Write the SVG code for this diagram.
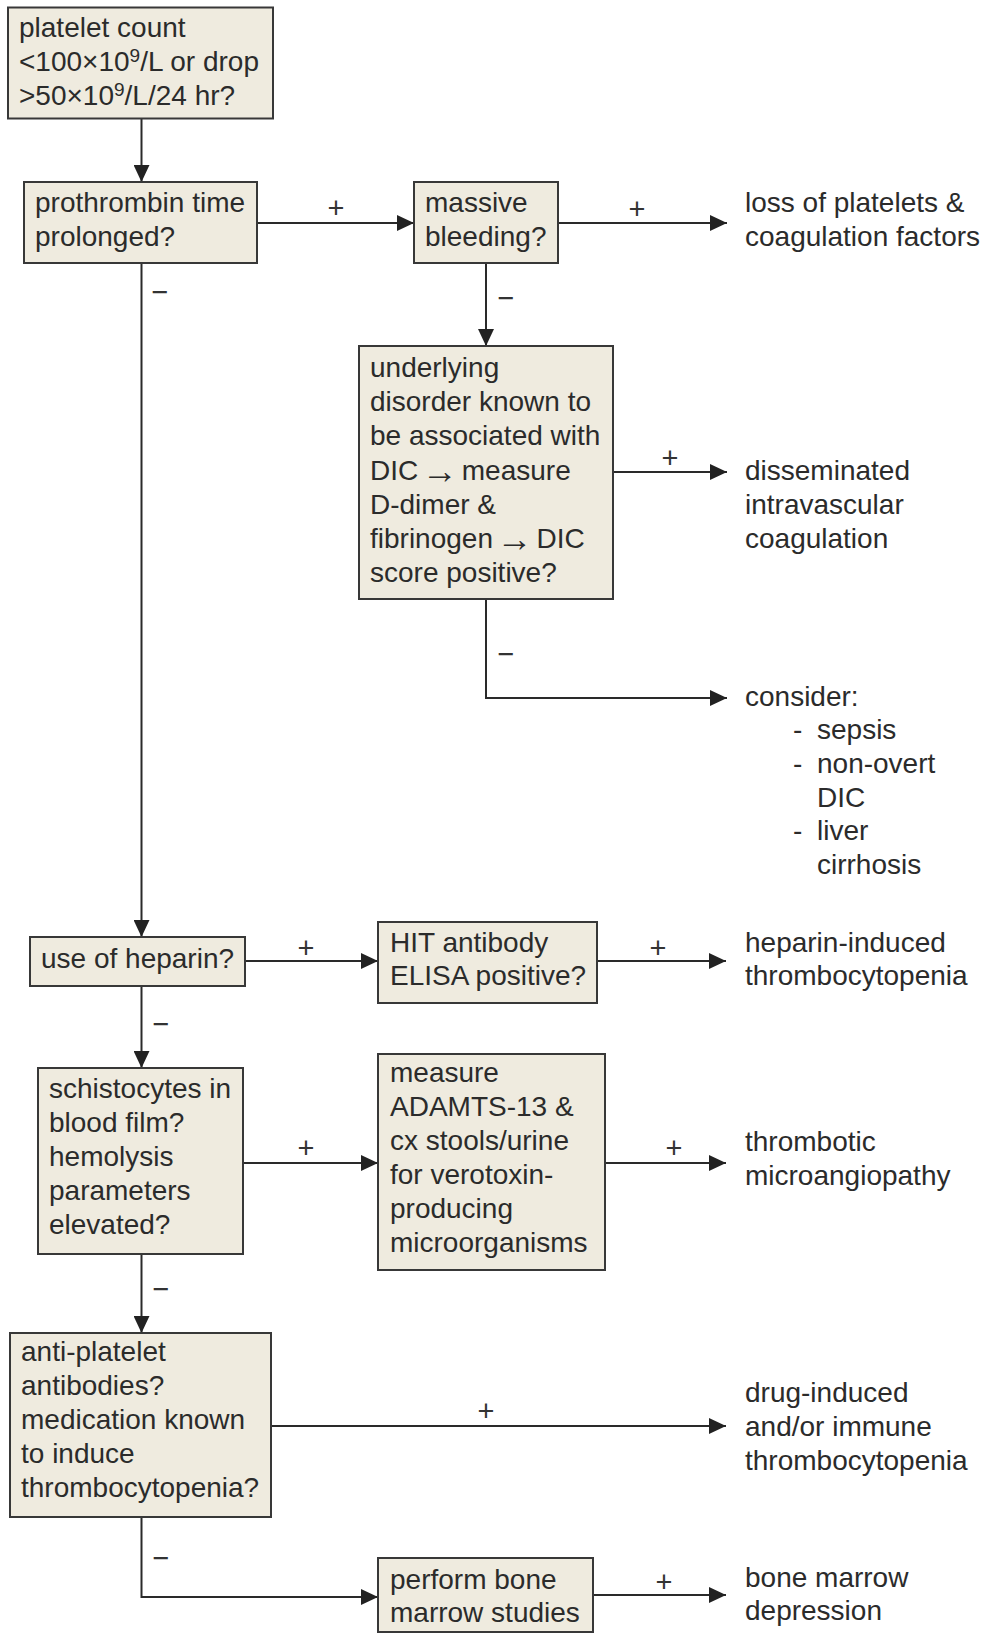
<svg xmlns="http://www.w3.org/2000/svg" width="984" height="1634" viewBox="0 0 984 1634">
  <style>
    .box { fill: #efebdf; stroke: #383838; stroke-width: 2; }
    .t { font-family: "Liberation Sans", Arial, Helvetica, sans-serif; font-size: 28px; fill: #2b2b2b; }
    .lbl { font-family: "Liberation Sans", Arial, Helvetica, sans-serif; font-size: 29px; fill: #333333; text-anchor: middle; }
    .sup { font-size: 19px; }
    .tight { word-spacing: -4px; }
    .arr { font-size: 36px; }
    #connectors path { fill: none; stroke: #2a2a2a; stroke-width: 2; marker-end: url(#arrow); }
  </style>
  <defs>
    <marker id="arrow" markerUnits="userSpaceOnUse" markerWidth="17" markerHeight="16" refX="17" refY="8" orient="auto">
      <path d="M0,0 L17,8 L0,16 z" fill="#222222"/>
    </marker>
  </defs>

  <rect width="984" height="1634" fill="#ffffff"/>

  <!-- connectors -->
  <g id="connectors">
    <path d="M141.5,119 V182"/>
    <path d="M257,223 H414"/>
    <path d="M558,223 H727"/>
    <path d="M486,263 V346"/>
    <path d="M613,472 H727"/>
    <path d="M486,599 V698 H727"/>
    <path d="M141.5,263 V937"/>
    <path d="M245,961 H378"/>
    <path d="M597,961 H726"/>
    <path d="M141.5,986 V1068"/>
    <path d="M243,1163 H378"/>
    <path d="M605,1163 H726"/>
    <path d="M141.5,1254 V1333"/>
    <path d="M271,1426 H726"/>
    <path d="M141.5,1517 V1597 H378"/>
    <path d="M593,1595 H726"/>
  </g>

  <!-- branch labels -->
  <g id="branch-labels">
    <text class="lbl" x="336" y="218">+</text>
    <text class="lbl" x="637" y="219">+</text>
    <text class="lbl" x="160" y="302">−</text>
    <text class="lbl" x="506" y="308">−</text>
    <text class="lbl" x="670" y="468">+</text>
    <text class="lbl" x="506" y="664">−</text>
    <text class="lbl" x="306" y="958">+</text>
    <text class="lbl" x="658" y="958">+</text>
    <text class="lbl" x="161" y="1034">−</text>
    <text class="lbl" x="306" y="1158">+</text>
    <text class="lbl" x="674" y="1158">+</text>
    <text class="lbl" x="161" y="1299">−</text>
    <text class="lbl" x="486" y="1421">+</text>
    <text class="lbl" x="161" y="1568">−</text>
    <text class="lbl" x="664" y="1592">+</text>
  </g>

  <!-- decision boxes -->
  <g id="platelet-count">
    <rect class="box" x="8" y="7.5" width="265" height="111"/>
    <text class="t" x="19" y="37">platelet count</text>
    <text class="t" x="19" y="71">&lt;100×10<tspan class="sup" dy="-9">9</tspan><tspan dy="9">/L or drop</tspan></text>
    <text class="t" x="19" y="105">&gt;50×10<tspan class="sup" dy="-9">9</tspan><tspan dy="9">/L/24 hr?</tspan></text>
  </g>

  <g id="prothrombin-time">
    <rect class="box" x="24" y="182" width="233" height="81"/>
    <text class="t" x="35" y="212">prothrombin time</text>
    <text class="t" x="35" y="246">prolonged?</text>
  </g>

  <g id="massive-bleeding">
    <rect class="box" x="414" y="182" width="144" height="81"/>
    <text class="t" x="425" y="212">massive</text>
    <text class="t" x="425" y="246">bleeding?</text>
  </g>

  <g id="dic-score">
    <rect class="box" x="359" y="346" width="254" height="253"/>
    <text class="t" x="370" y="377">underlying</text>
    <text class="t" x="370" y="411">disorder known to</text>
    <text class="t" x="370" y="445">be associated with</text>
    <text class="t tight" x="370" y="480">DIC <tspan class="arr" dy="3">→</tspan><tspan dy="-3"> measure</tspan></text>
    <text class="t" x="370" y="514">D-dimer &amp;</text>
    <text class="t tight" x="370" y="548">fibrinogen <tspan class="arr" dy="3">→</tspan><tspan dy="-3"> DIC</tspan></text>
    <text class="t" x="370" y="582">score positive?</text>
  </g>

  <g id="use-of-heparin">
    <rect class="box" x="30" y="937" width="215" height="49"/>
    <text class="t" x="41" y="968">use of heparin?</text>
  </g>

  <g id="hit-antibody">
    <rect class="box" x="378" y="922" width="219" height="81"/>
    <text class="t" x="390" y="952">HIT antibody</text>
    <text class="t" x="390" y="985">ELISA positive?</text>
  </g>

  <g id="schistocytes">
    <rect class="box" x="38" y="1068" width="205" height="186"/>
    <text class="t" x="49" y="1098">schistocytes in</text>
    <text class="t" x="49" y="1132">blood film?</text>
    <text class="t" x="49" y="1166">hemolysis</text>
    <text class="t" x="49" y="1200">parameters</text>
    <text class="t" x="49" y="1234">elevated?</text>
  </g>

  <g id="adamts13">
    <rect class="box" x="378" y="1054" width="227" height="216"/>
    <text class="t" x="390" y="1082">measure</text>
    <text class="t" x="390" y="1116">ADAMTS-13 &amp;</text>
    <text class="t" x="390" y="1150">cx stools/urine</text>
    <text class="t" x="390" y="1184">for verotoxin-</text>
    <text class="t" x="390" y="1218">producing</text>
    <text class="t" x="390" y="1252">microorganisms</text>
  </g>

  <g id="anti-platelet">
    <rect class="box" x="10" y="1333" width="261" height="184"/>
    <text class="t" x="21" y="1361">anti-platelet</text>
    <text class="t" x="21" y="1395">antibodies?</text>
    <text class="t" x="21" y="1429">medication known</text>
    <text class="t" x="21" y="1463">to induce</text>
    <text class="t" x="21" y="1497">thrombocytopenia?</text>
  </g>

  <g id="bone-marrow-studies">
    <rect class="box" x="378" y="1558" width="215" height="74"/>
    <text class="t" x="390" y="1589">perform bone</text>
    <text class="t" x="390" y="1622">marrow studies</text>
  </g>

  <!-- outcomes -->
  <g id="outcome-loss">
    <text class="t" x="745" y="212">loss of platelets &amp;</text>
    <text class="t" x="745" y="246">coagulation factors</text>
  </g>

  <g id="outcome-dic">
    <text class="t" x="745" y="480">disseminated</text>
    <text class="t" x="745" y="514">intravascular</text>
    <text class="t" x="745" y="548">coagulation</text>
  </g>

  <g id="outcome-consider">
    <text class="t" x="745" y="706">consider:</text>
    <text class="t" x="793" y="739">-</text>
    <text class="t" x="817" y="739">sepsis</text>
    <text class="t" x="793" y="773">-</text>
    <text class="t" x="817" y="773">non-overt</text>
    <text class="t" x="817" y="807">DIC</text>
    <text class="t" x="793" y="840">-</text>
    <text class="t" x="817" y="840">liver</text>
    <text class="t" x="817" y="874">cirrhosis</text>
  </g>

  <g id="outcome-hit">
    <text class="t" x="745" y="952">heparin-induced</text>
    <text class="t" x="745" y="985">thrombocytopenia</text>
  </g>

  <g id="outcome-tma">
    <text class="t" x="745" y="1151">thrombotic</text>
    <text class="t" x="745" y="1185">microangiopathy</text>
  </g>

  <g id="outcome-itp">
    <text class="t" x="745" y="1402">drug-induced</text>
    <text class="t" x="745" y="1436">and/or immune</text>
    <text class="t" x="745" y="1470">thrombocytopenia</text>
  </g>

  <g id="outcome-marrow">
    <text class="t" x="745" y="1587">bone marrow</text>
    <text class="t" x="745" y="1620">depression</text>
  </g>
</svg>
